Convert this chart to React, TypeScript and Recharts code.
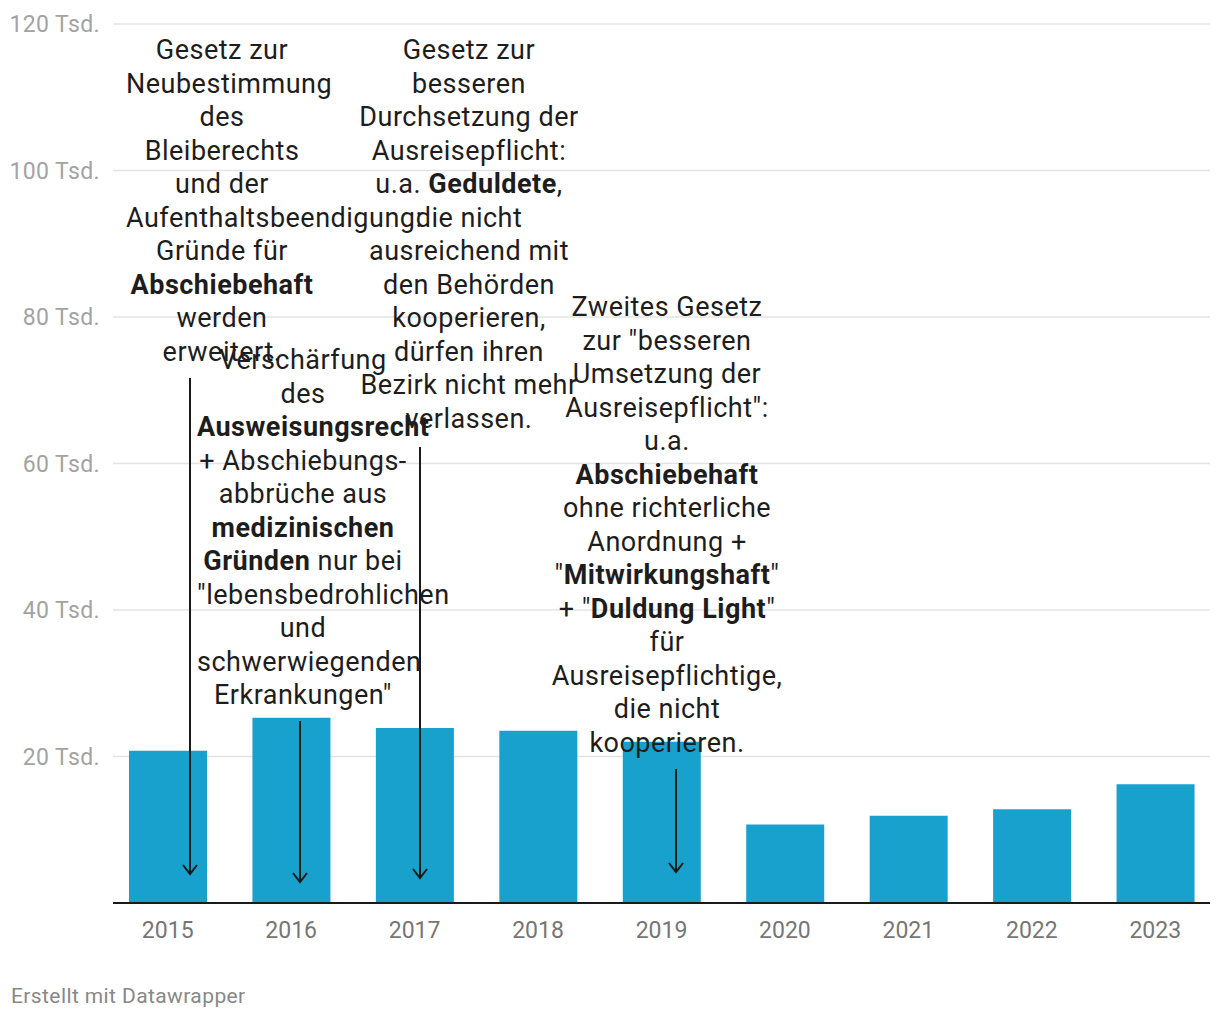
import { BarChart, Bar, XAxis, YAxis, CartesianGrid } from "recharts";

const years = ["2015", "2016", "2017", "2018", "2019", "2020", "2021", "2022", "2023"];
// Abschiebungen in Tausend
const abschiebungen = [20.8, 25.3, 23.9, 23.5, 22.0, 10.7, 11.9, 12.8, 16.2];
const yTicks = [0, 20, 40, 60, 80, 100, 120];

const data = years.map((year, i) => ({ year, value: abschiebungen[i] }));

// **...** = fett
const notes = [
  {
    left: 126, top: 34, width: 192,
    lines: [
      "Gesetz zur", "Neubestimmung", "des", "Bleiberechts", "und der",
      "Aufenthaltsbeendigung:", "Gründe für", "**Abschiebehaft**", "werden", "erweitert.",
    ],
  },
  {
    left: 197, top: 344, width: 212,
    lines: [
      "Verschärfung", "des", "**Ausweisungsrecht**", "+ Abschiebungs-", "abbrüche aus",
      "**medizinischen**", "**Gründen** nur bei", "\"lebensbedrohlichen", "und",
      "schwerwiegenden", "Erkrankungen\"",
    ],
  },
  {
    left: 358, top: 34, width: 222,
    lines: [
      "Gesetz zur", "besseren", "Durchsetzung der", "Ausreisepflicht:", "u.a. **Geduldete**,",
      "die nicht", "ausreichend mit", "den Behörden", "kooperieren,", "dürfen ihren",
      "Bezirk nicht mehr", "verlassen.",
    ],
  },
  {
    left: 551, top: 291, width: 232,
    lines: [
      "Zweites Gesetz", "zur \"besseren", "Umsetzung der", "Ausreisepflicht\":", "u.a.",
      "**Abschiebehaft**", "ohne richterliche", "Anordnung +", "\"**Mitwirkungshaft**\"",
      "+ \"**Duldung Light**\"", "für", "Ausreisepflichtige,", "die nicht", "kooperieren.",
    ],
  },
];

const arrows = [
  { x: 190, y1: 378, y2: 874 },
  { x: 300, y1: 721, y2: 882 },
  { x: 420, y1: 447, y2: 878 },
  { x: 676, y1: 769, y2: 872 },
];

function renderLine(line: string) {
  return line.split("**").map((part, i) =>
    i % 2 === 1 ? <b key={i} style={{ fontWeight: 700 }}>{part}</b> : <span key={i}>{part}</span>
  );
}

export default function App() {
  return (
    <div
      style={{
        position: "absolute",
        left: 0,
        top: 0,
        width: 1220,
        height: 1020,
        background: "#fff",
        fontFamily: "Roboto, sans-serif",
        overflow: "hidden",
      }}
    >
      <BarChart
        width={1220}
        height={960}
        data={data}
        margin={{ top: 24, right: 10, left: 0, bottom: 17 }}
      >
        <CartesianGrid vertical={false} stroke="#e3e3e3" strokeWidth={1.5} />
        <XAxis
          dataKey="year"
          height={40}
          padding={{ left: -7, right: -7 }}
          axisLine={{ stroke: "#1a1a1a", strokeWidth: 2 }}
          tickLine={false}
          tickSize={0}
          tickMargin={19}
          tick={{ fill: "#767676", fontSize: 23, fontFamily: "Roboto" }}
        />
        <YAxis
          width={113}
          domain={[0, 120]}
          ticks={yTicks}
          tickFormatter={(v: number) => (v === 0 ? "" : `${v} Tsd.`)}
          axisLine={false}
          tickLine={false}
          tickSize={0}
          tickMargin={13}
          tick={{ fill: "#a3a3a3", fontSize: 23, fontFamily: "Roboto", letterSpacing: 0.4 }}
        />
        <Bar dataKey="value" fill="#18a1cd" barSize={78} isAnimationActive={false} />
      </BarChart>

      {notes.map((n, i) => (
        <div
          key={i}
          style={{
            position: "absolute",
            left: n.left,
            top: n.top,
            width: n.width,
            textAlign: "center",
            fontSize: 27,
            letterSpacing: 0.5,
            lineHeight: "33.5px",
            color: "#1d1d1d",
          }}
        >
          {n.lines.map((l, j) => (
            <div key={j} style={{ whiteSpace: "nowrap" }}>{renderLine(l)}</div>
          ))}
        </div>
      ))}

      <svg
        width={1220}
        height={1020}
        style={{ position: "absolute", left: 0, top: 0, pointerEvents: "none" }}
      >
        {arrows.map((a, i) => (
          <g key={i} stroke="#1a1a1a" strokeWidth={2} fill="none">
            <line x1={a.x} y1={a.y1} x2={a.x} y2={a.y2} />
            <polyline points={`${a.x - 7},${a.y2 - 9} ${a.x},${a.y2} ${a.x + 7},${a.y2 - 9}`} />
          </g>
        ))}
      </svg>

      <div
        style={{
          position: "absolute",
          left: 11,
          top: 986,
          fontSize: 21,
          letterSpacing: 0.4,
          lineHeight: "20px",
          color: "#888",
        }}
      >
        Erstellt mit Datawrapper
      </div>
    </div>
  );
}
